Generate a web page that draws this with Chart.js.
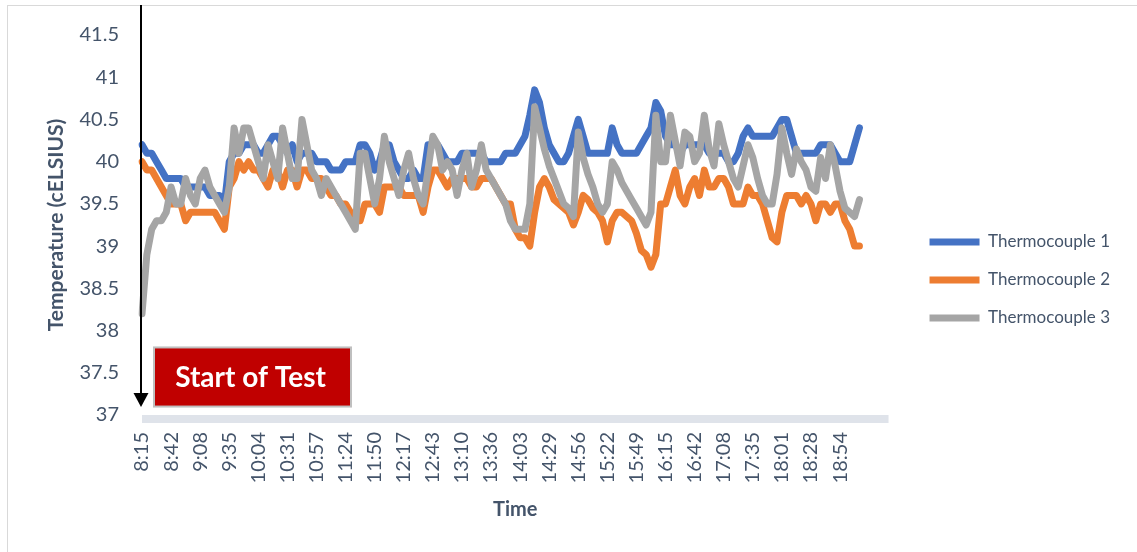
<!DOCTYPE html>
<html>
<head>
<meta charset="utf-8">
<title>Thermocouple temperatures</title>
<script src="https://cdn.jsdelivr.net/npm/chart.js@4.4.1/dist/chart.umd.min.js"></script>
<style>
  html, body { margin: 0; padding: 0; background: #ffffff; overflow: hidden; }
  #wrap { position: relative; width: 1137px; height: 552px; overflow: hidden; }
  #frame { position: absolute; left: 7px; top: 5px; width: 1160px; height: 580px; border: 1px solid #d9d9d9; box-sizing: border-box; }
  #chart { position: absolute; left: 0; top: 0; }
</style>
</head>
<body>
<div id="wrap">
  <div id="frame"></div>
  <canvas id="chart" width="1137" height="552"></canvas>
</div>
<script>
// Time labels shown along the x axis (one every six readings)
const tickTimes = ['8:15', '8:42', '9:08', '9:35', '10:04', '10:31', '10:57', '11:24', '11:50',
  '12:17', '12:43', '13:10', '13:36', '14:03', '14:29', '14:56', '15:22', '15:49', '16:15',
  '16:42', '17:08', '17:35', '18:01', '18:28', '18:54'];
const readingsPerTick = 6;
const categoryCount = 155;

// Readings, degrees Celsius
const thermocouple1 = [
  40.2, 40.1, 40.1, 40.0, 39.9, 39.8, 39.8, 39.8, 39.8, 39.7,
  39.7, 39.7, 39.7, 39.7, 39.6, 39.6, 39.6, 39.5, 40.0, 40.1,
  40.1, 40.2, 40.2, 40.2, 40.1, 40.1, 40.2, 40.3, 40.3, 40.2,
  40.1, 40.2, 40.0, 40.1, 40.1, 40.1, 40.0, 40.0, 40.0, 39.9,
  39.9, 39.9, 40.0, 40.0, 40.0, 40.2, 40.2, 40.1, 39.9, 40.0,
  40.2, 40.2, 40.0, 39.9, 39.8, 39.8, 39.9, 39.8, 39.8, 40.2,
  40.2, 40.2, 40.1, 40.0, 40.0, 40.0, 40.1, 40.1, 40.1, 40.1,
  40.1, 40.0, 40.0, 40.0, 40.0, 40.1, 40.1, 40.1, 40.2, 40.3,
  40.55, 40.85, 40.7, 40.4, 40.2, 40.1, 40.0, 40.0, 40.1, 40.3,
  40.5, 40.3, 40.1, 40.1, 40.1, 40.1, 40.1, 40.4, 40.2, 40.1,
  40.1, 40.1, 40.1, 40.2, 40.3, 40.4, 40.7, 40.6, 40.3, 40.2,
  40.2, 40.1, 40.2, 40.2, 40.2, 40.2, 40.2, 40.1, 40.1, 40.1,
  40.1, 40.0, 40.0, 40.1, 40.3, 40.4, 40.3, 40.3, 40.3, 40.3,
  40.3, 40.4, 40.5, 40.5, 40.3, 40.1, 40.1, 40.1, 40.1, 40.1,
  40.2, 40.2, 40.2, 40.1, 40.0, 40.0, 40.0, 40.2, 40.4
];
const thermocouple2 = [
  40.0, 39.9, 39.9, 39.8, 39.7, 39.6, 39.5, 39.5, 39.5, 39.3,
  39.4, 39.4, 39.4, 39.4, 39.4, 39.4, 39.3, 39.2, 39.7, 39.8,
  40.0, 39.9, 40.0, 39.9, 39.9, 39.8, 39.7, 39.9, 39.9, 39.7,
  39.9, 39.9, 39.7, 39.9, 39.9, 39.8, 39.8, 39.8, 39.7, 39.6,
  39.6, 39.5, 39.5, 39.4, 39.3, 39.3, 39.5, 39.5, 39.5, 39.4,
  39.7, 39.7, 39.7, 39.7, 39.6, 39.6, 39.6, 39.6, 39.4, 39.7,
  39.9, 39.9, 39.8, 39.7, 39.8, 39.8, 39.8, 39.8, 39.7, 39.7,
  39.8, 39.8, 39.8, 39.7, 39.6, 39.5, 39.5, 39.2, 39.1, 39.1,
  39.0, 39.4, 39.7, 39.8, 39.7, 39.55, 39.5, 39.45, 39.4, 39.25,
  39.4, 39.6, 39.55, 39.45, 39.4, 39.3, 39.05, 39.3, 39.4, 39.4,
  39.35, 39.3, 39.15, 38.95, 38.9, 38.75, 38.9, 39.5, 39.5, 39.7,
  39.9, 39.6, 39.5, 39.7, 39.8, 39.6, 39.9, 39.7, 39.7, 39.8,
  39.8, 39.7, 39.5, 39.5, 39.5, 39.7, 39.6, 39.6, 39.5, 39.3,
  39.1, 39.05, 39.4, 39.6, 39.6, 39.6, 39.5, 39.6, 39.5, 39.3,
  39.5, 39.5, 39.4, 39.5, 39.5, 39.3, 39.2, 39.0, 39.0
];
const thermocouple3 = [
  38.2, 38.9, 39.2, 39.3, 39.3, 39.4, 39.7, 39.5, 39.5, 39.8,
  39.6, 39.5, 39.8, 39.9, 39.7, 39.6, 39.5, 39.4, 39.7, 40.4,
  40.1, 40.4, 40.4, 40.2, 40.0, 39.8, 40.2, 40.0, 39.8, 40.4,
  40.1, 39.8, 39.8, 40.5, 40.2, 39.9, 39.8, 39.6, 39.8, 39.7,
  39.6, 39.5, 39.4, 39.3, 39.2, 40.1, 40.1, 39.8, 39.5, 39.8,
  40.3, 40.0, 39.8, 39.6, 39.9, 40.1, 39.8, 39.6, 39.5, 39.9,
  40.3, 40.2, 39.9, 40.0, 39.9, 39.6, 39.9, 40.1, 39.7, 39.9,
  40.2, 39.9, 39.8, 39.7, 39.6, 39.5, 39.3, 39.2, 39.2, 39.2,
  39.5, 40.65, 40.4, 40.15, 39.95, 39.8, 39.65, 39.5, 39.45, 39.35,
  40.35, 40.05, 39.85, 39.7, 39.5, 39.4, 39.5, 40.0, 39.9, 39.75,
  39.65, 39.55, 39.45, 39.35, 39.25, 39.4, 40.55, 40.0, 40.0, 40.55,
  40.25, 39.95, 40.35, 40.3, 40.0, 40.1, 40.55, 40.15, 39.95, 40.45,
  40.2, 40.0, 39.8, 39.7, 39.95, 40.2, 40.05, 39.8, 39.6, 39.5,
  39.5, 39.85, 40.4, 40.1, 39.85, 40.15, 40.0, 39.9, 39.7, 39.65,
  40.05, 39.8, 40.2, 39.95, 39.65, 39.45, 39.4, 39.35, 39.55
];

const seriesNames = ['Thermocouple 1', 'Thermocouple 2', 'Thermocouple 3'];
const seriesColors = ['#4472C4', '#ED7D31', '#A5A5A5'];
const textColor = '#44546A';
const fontFamily = 'Lato, "Open Sans", "Liberation Sans", sans-serif';

// One category per reading; only every sixth one carries a time label
const categories = [];
for (let i = 0; i < categoryCount; i++) {
  categories.push(i % readingsPerTick === 0 && tickTimes[i / readingsPerTick] !== undefined
    ? tickTimes[i / readingsPerTick] : '');
}

// Axis bar, start-of-test arrow and the red callout
const decorations = {
  id: 'decorations',
  beforeDatasetsDraw(chart) {
    const { ctx, chartArea, scales: { x } } = chart;
    ctx.save();
    ctx.fillStyle = '#dfe3ea';
    ctx.fillRect(x.left, chartArea.bottom, x.right - x.left, 8);
    ctx.restore();
  },
  afterDatasetsDraw(chart) {
    const { ctx, chartArea, scales: { x, y } } = chart;
    const startX = x.getPixelForValue(0);
    ctx.save();

    // arrow marking the start of the test
    const ax = startX - 1;
    const tipY = chartArea.bottom - 8;
    ctx.strokeStyle = '#000000';
    ctx.lineWidth = 2;
    ctx.beginPath();
    ctx.moveTo(ax, 5);
    ctx.lineTo(ax, tipY - 12);
    ctx.stroke();
    ctx.fillStyle = '#000000';
    ctx.beginPath();
    ctx.moveTo(ax - 7.5, tipY - 14);
    ctx.lineTo(ax + 7.5, tipY - 14);
    ctx.lineTo(ax, tipY);
    ctx.closePath();
    ctx.fill();

    // callout box
    const bx = startX + 12;
    const bw = 197;
    const by = y.getPixelForValue(37.8);
    const bh = y.getPixelForValue(37.1) - by;
    ctx.fillStyle = '#C00000';
    ctx.fillRect(bx, by, bw, bh);
    ctx.strokeStyle = '#BFBFBF';
    ctx.lineWidth = 2;
    ctx.strokeRect(bx, by, bw, bh);
    ctx.fillStyle = '#FFFFFF';
    ctx.font = 'bold 28px ' + fontFamily;
    ctx.textAlign = 'center';
    ctx.textBaseline = 'middle';
    ctx.fillText('Start of Test', bx + bw / 2 - 2, by + bh / 2 + 1);
    ctx.restore();
  }
};

function buildChart() {
  const datasets = [thermocouple1, thermocouple2, thermocouple3].map((values, k) => ({
    label: seriesNames[k],
    data: values,
    borderColor: seriesColors[k],
    backgroundColor: seriesColors[k],
    borderWidth: 7,
    borderCapStyle: 'round',
    borderJoinStyle: 'round',
    pointRadius: 0,
    tension: 0,
    fill: false,
    order: 3 - k
  }));

  new Chart(document.getElementById('chart'), {
    type: 'line',
    data: { labels: categories, datasets },
    plugins: [decorations],
    options: {
      responsive: false,
      animation: false,
      devicePixelRatio: 1,
      layout: { padding: { top: 8, right: 17, bottom: 0, left: 0 } },
      plugins: {
        tooltip: { enabled: false },
        legend: {
          position: 'right',
          labels: {
            usePointStyle: true,
            pointStyle: 'line',
            pointStyleWidth: 50,
            padding: 21,
            color: textColor,
            font: { family: fontFamily, size: 17 },
            sort: (a, b) => a.datasetIndex - b.datasetIndex
          }
        }
      },
      scales: {
        x: {
          type: 'category',
          ticks: {
            autoSkip: false,
            minRotation: 90,
            maxRotation: 90,
            padding: 17,
            color: textColor,
            font: { family: fontFamily, size: 20 }
          },
          grid: { display: false, drawTicks: false },
          border: { display: false },
          title: {
            display: true,
            text: 'Time',
            color: textColor,
            font: { family: fontFamily, size: 20, weight: 'bold' },
            padding: { top: 0, bottom: 30 }
          },
          afterFit: (s) => { s.height = 137; }
        },
        xTop: {
          type: 'category',
          position: 'top',
          ticks: { display: false },
          grid: { display: false, drawTicks: false },
          border: { display: false },
          afterFit: (s) => { s.height = 27; }
        },
        y: {
          min: 37,
          max: 41.5,
          ticks: {
            stepSize: 0.5,
            padding: 23,
            color: textColor,
            font: { family: fontFamily, size: 20 },
            callback: (v) => String(v)
          },
          grid: { display: false, drawTicks: false },
          border: { display: false },
          title: {
            display: true,
            text: 'Temperature (cELSIUS)',
            color: textColor,
            font: { family: fontFamily, size: 21, weight: 'bold' },
            padding: { top: 44, bottom: 0 }
          },
          afterFit: (s) => { s.width = 142; }
        },
        // empty spacer between the plot and the legend
        yGap: {
          type: 'linear',
          position: 'right',
          display: false,
          afterFit: (s) => { s.width = 20; }
        }
      }
    }
  });
}

Promise.all([
  document.fonts.load('20px Lato'),
  document.fonts.load('bold 20px Lato')
]).catch(() => {}).then(buildChart);
</script>
</body>
</html>
